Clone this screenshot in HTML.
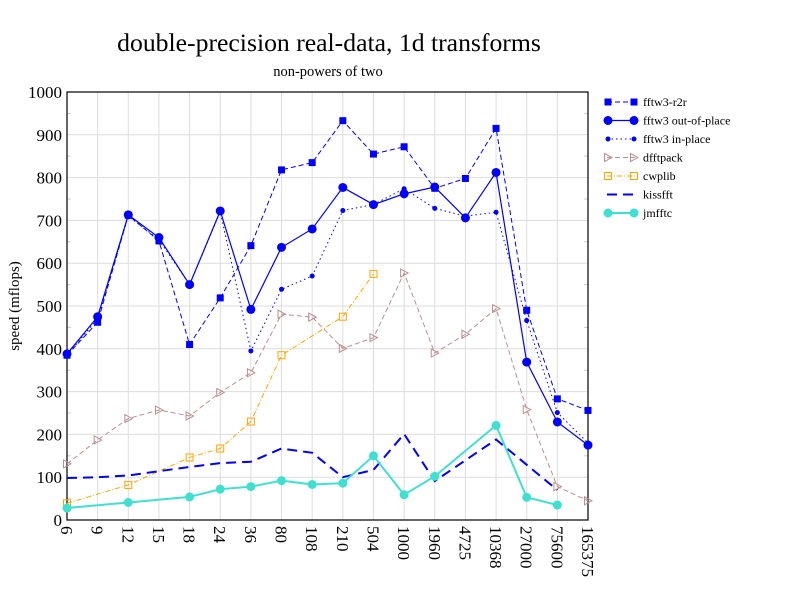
<!DOCTYPE html>
<html><head><meta charset="utf-8"><style>body{margin:0;background:#fff}svg{display:block}text{font-family:"Liberation Serif",serif;fill:#000}</style></head>
<body><svg id="s" width="792" height="612" xmlns="http://www.w3.org/2000/svg"></svg>
<script>
const s=document.getElementById('s');let h='';
const X0=67,DX=(588-67)/17,Y0=520,K=0.428;
const xs=i=>X0+i*DX, ys=v=>Y0-v*K;
const cats=[6,9,12,15,18,24,36,80,108,210,504,1000,1960,4725,10368,27000,75600,165375];
h+='<rect x="67" y="92" width="521" height="428" fill="#fff"/>';
for(let i=0;i<18;i++)h+=`<line x1="${xs(i)}" y1="92" x2="${xs(i)}" y2="520" stroke="#ddd"/>`;
for(let v=0;v<=1000;v+=100)h+=`<line x1="67" y1="${ys(v)}" x2="588" y2="${ys(v)}" stroke="#ddd"/>`;
for(let v=50;v<1000;v+=100)h+=`<line x1="67" y1="${ys(v)}" x2="71" y2="${ys(v)}" stroke="#ccc"/><line x1="584" y1="${ys(v)}" x2="588" y2="${ys(v)}" stroke="#ccc"/>`;
h+='<rect x="67" y="92" width="521" height="428" fill="none" stroke="#000" stroke-width="1.2"/>';
for(let v=0;v<=1000;v+=100)h+=`<text x="62" y="${ys(v)+6}" font-size="17" text-anchor="end">${v}</text>`;
cats.forEach((c,i)=>h+=`<text transform="translate(${xs(i)-6},526) rotate(90)" font-size="17">${c}</text>`);
h+='<text x="329" y="51" font-size="25.7" text-anchor="middle">double-precision real-data, 1d transforms</text>';
h+='<text x="328" y="76" font-size="14.5" text-anchor="middle">non-powers of two</text>';
h+='<text transform="translate(19,306) rotate(-90)" font-size="15" text-anchor="middle">speed (mflops)</text>';
function mk(t,x,y,c){
 if(t=='sq')return `<rect x="${x-3.5}" y="${y-3.5}" width="7" height="7" fill="${c}"/>`;
 if(t=='o')return `<circle cx="${x}" cy="${y}" r="4.5" fill="${c}"/>`;
 if(t=='d')return `<circle cx="${x}" cy="${y}" r="2.5" fill="${c}"/>`;
 if(t=='tri')return `<path d="M${x-3.5},${y-4}L${x+4},${y}L${x-3.5},${y+4}Z" fill="none" stroke="${c}"/>`;
 if(t=='osq')return `<rect x="${x-3.5}" y="${y-3.5}" width="7" height="7" fill="none" stroke="${c}"/>`;
 if(t=='c')return `<circle cx="${x}" cy="${y}" r="4.5" fill="${c}"/>`;
 return '';
}
const S=[
['fftw3-r2r','#00f','5,3',1,'sq',[385,462,712,652,410,519,641,818,835,933,855,872,775,798,915,490,283,256]],
['fftw3 out-of-place','#00f','',1.2,'o',[388,475,713,660,550,722,492,637,680,777,737,762,778,706,812,369,229,175]],
['fftw3 in-place','#00f','1.5,3',1,'d',[385,470,710,655,550,720,395,539,570,723,737,774,728,710,719,466,251,180]],
['dfftpack','#bc8f8f','5,3',1,'tri',[131,187,237,257,243,298,344,481,474,401,426,577,390,434,494,258,78,45]],
['cwplib','#ffa500','5,2,1,2',1,'osq',[39,null,82,null,146,167,230,385,null,475,575]],
['kissfft','#00f','10,6',2,'',[98,100,104,114,124,133,136,167,157,100,117,201,91,null,188,null,70]],
['jmfftc','#40e0d0','',2,'c',[28,null,41,null,54,72,78,92,83,86,150,59,102,null,221,53,35]]];
S.forEach((sr,k)=>{
 const p=[];sr[5].forEach((v,i)=>{if(v!=null)p.push([xs(i),ys(v)])});
 h+=`<polyline points="${p.map(q=>q.join(',')).join(' ')}" fill="none" stroke="${sr[1]}" stroke-width="${sr[3]}" stroke-dasharray="${sr[2]}"/>`;
 p.forEach(q=>h+=mk(sr[4],q[0],q[1],sr[1]));
 const ly=102+k*18.5;
 h+=`<line x1="607" y1="${ly}" x2="635" y2="${ly}" stroke="${sr[1]}" stroke-width="${sr[3]}" stroke-dasharray="${sr[2]}"/>`;
 if(sr[4]){h+=mk(sr[4],608,ly,sr[1])+mk(sr[4],634,ly,sr[1]);}
 h+=`<text x="643" y="${ly+4}" font-size="12">${sr[0]}</text>`;
});
s.innerHTML=h;
</script></body></html>
